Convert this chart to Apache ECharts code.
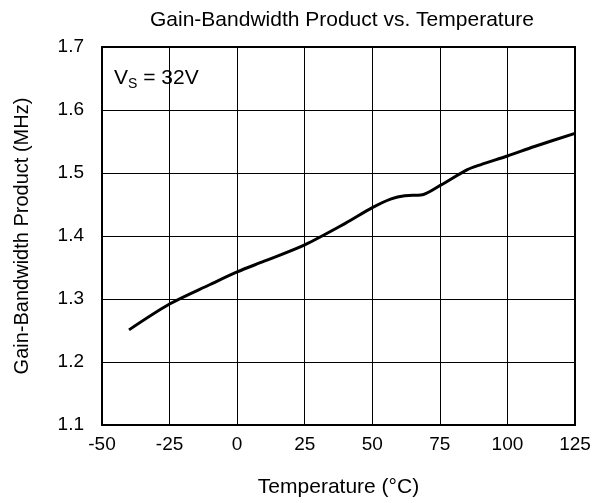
<!DOCTYPE html>
<html><head><meta charset="utf-8">
<script src="https://cdn.jsdelivr.net/npm/echarts@6/dist/echarts.min.js"></script>
<style>html,body{margin:0;padding:0;background:#fff}#c{width:603px;height:503px}</style>
</head><body><div id="c"></div>
<script>
const temps = [-40, -25, -10, 0, 10, 25, 40, 50, 57, 62, 68, 75, 85, 90, 100, 110, 125];
const gbw   = [1.251, 1.292, 1.323, 1.343, 1.36, 1.386, 1.42, 1.445, 1.459, 1.464, 1.465, 1.48, 1.505, 1.513, 1.527, 1.542, 1.563];
const xTicks = [-50, -25, 0, 25, 50, 75, 100, 125];
const yTicks = [1.1, 1.2, 1.3, 1.4, 1.5, 1.6, 1.7];
const F = 'Liberation Sans, Arial, sans-serif';
const chart = echarts.init(document.getElementById('c'));
chart.setOption({
  animation: false,
  title: {text: 'Gain-Bandwidth Product vs. Temperature', left: 337, top: 5, textAlign: 'center',
    textStyle: {fontFamily: F, fontSize: 21, fontWeight: 'normal', color: '#000'}},
  grid: {left: 102, right: 28, top: 47, bottom: 77, show: true, borderColor: '#000', borderWidth: 2},
  xAxis: {type: 'value', min: xTicks[0], max: xTicks[xTicks.length-1], interval: 25,
    name: 'Temperature (°C)', nameLocation: 'middle', nameGap: 52,
    nameTextStyle: {fontFamily: F, fontSize: 21, color: '#000'},
    axisLine: {show: false}, axisTick: {show: false},
    axisLabel: {fontFamily: F, fontSize: 19, color: '#000', margin: 10},
    splitLine: {show: true, lineStyle: {color: '#000', width: 1}}},
  yAxis: {type: 'value', min: 1.1, max: 1.7, interval: 0.1,
    name: 'Gain-Bandwidth Product (MHz)', nameLocation: 'middle', nameGap: 70,
    nameTextStyle: {fontFamily: F, fontSize: 20, color: '#000'},
    axisLine: {show: false}, axisTick: {show: false},
    axisLabel: {fontFamily: F, fontSize: 19, color: '#000', margin: 18, formatter: v => v.toFixed(1)},
    splitLine: {show: true, lineStyle: {color: '#000', width: 1}}},
  graphic: [{type: 'text', left: 114, top: 68, style: {
    text: '{a|V}{b|S}{a| = 32V}', rich: {
      a: {fontFamily: F, fontSize: 21, fill: '#000'},
      b: {fontFamily: F, fontSize: 14, fill: '#000', verticalAlign: 'bottom', padding: [11, 0, 0, 0]}
    }}}],
  series: [{type: 'line', data: temps.map((t, i) => [t, gbw[i]]), smooth: 0.3, symbol: 'none',
    lineStyle: {color: '#000', width: 3}}]
});
</script></body></html>
